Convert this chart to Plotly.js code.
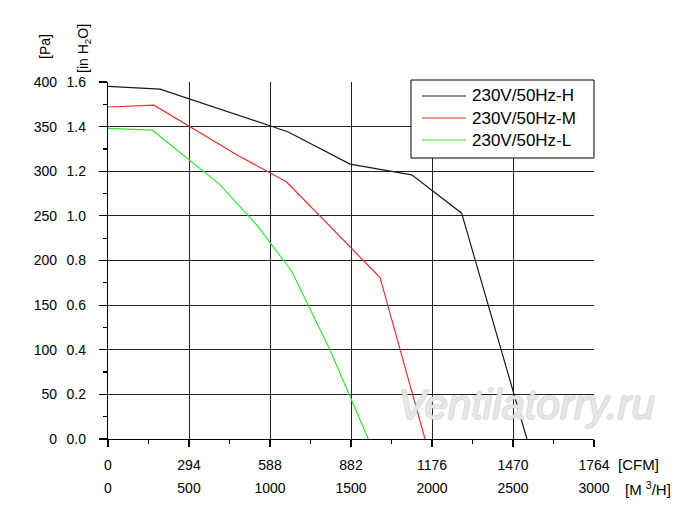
<!DOCTYPE html>
<html>
<head>
<meta charset="utf-8">
<script src="https://cdn.plot.ly/plotly-3.0.1.min.js"></script>
<style>
  html, body { margin: 0; padding: 0; background: #fff; }
  #chart { width: 700px; height: 512px; }
</style>
</head>
<body>
<div id="chart"></div>
<script>
// fan curves, flow in m3/h, static pressure in Pa
const seriesNames = ["230V/50Hz-H", "230V/50Hz-M", "230V/50Hz-L"];
const flowH = [0, 321, 1000, 1113, 1494, 1875, 2183, 2586];
const pressH = [395, 392, 351, 344, 308, 296, 253, 0];
const flowM = [0, 284, 800, 1103, 1679, 1957];
const pressM = [372, 374, 318, 288, 181, 0];
const flowL = [0, 274, 691, 918, 1134, 1370, 1607];
const pressL = [348, 346, 285, 240, 188, 100, 0];

const m3hTicks = [0, 500, 1000, 1500, 2000, 2500, 3000];
const cfmTicks = [0, 294, 588, 882, 1176, 1470, 1764];
const paTicks = [0, 50, 100, 150, 200, 250, 300, 350, 400];
const inH2OTicks = [0, 0.2, 0.4, 0.6, 0.8, 1.0, 1.2, 1.4, 1.6];

const colors = ["#1a1a1a", "#e8302c", "#33e633"];
const FONT = "Liberation Sans, Arial, sans-serif";

// plot box in pixels, used to place the loose labels
const W = 700, H = 512;
const margin = { l: 108, r: 106, t: 82, b: 73 };
const px = x => (x - margin.l) / (W - margin.l - margin.r);
const py = y => (H - margin.b - y) / (H - margin.t - margin.b);

const line = (x, y, i) => ({
    x, y, name: seriesNames[i], type: "scatter", mode: "lines",
    line: { color: colors[i], width: 1.2 }, hoverinfo: "skip", showlegend: false
});

const traces = [
    line(flowH, pressH, 0),
    line(flowM, pressM, 1),
    line(flowL, pressL, 2)
];

// legend drawn by hand: the built-in one spaces rows too far apart
const legendShapes = [{
    type: "rect", xref: "paper", yref: "paper",
    x0: px(411), x1: px(594), y0: py(158), y1: py(80),
    fillcolor: "#fff", line: { color: "#000", width: 1 }, layer: "above"
}];
const legendText = [];
seriesNames.forEach((name, i) => {
    const rowY = 96 + i * 22;
    legendShapes.push({
        type: "line", xref: "paper", yref: "paper",
        x0: px(422), x1: px(466), y0: py(rowY), y1: py(rowY),
        line: { color: colors[i], width: 1.2 }, layer: "above"
    });
    legendText.push({
        text: name, xref: "paper", yref: "paper", x: px(470), y: py(rowY),
        xanchor: "left", yanchor: "middle", showarrow: false,
        font: { family: FONT, size: 17, color: "#000" }
    });
});

const tickFont = { family: FONT, size: 14, color: "#000" };

const layout = {
    width: W, height: H,
    margin,
    paper_bgcolor: "#fff",
    plot_bgcolor: "#fff",
    font: { family: FONT, color: "#000" },
    showlegend: false,
    xaxis: {
        range: [0, 3000], tickvals: m3hTicks, ticktext: m3hTicks.map(String),
        showgrid: true, gridcolor: "#222", gridwidth: 1,
        showline: true, linecolor: "#000", linewidth: 1.2,
        ticks: "outside", ticklen: 7, tickcolor: "#000", tickwidth: 1.2,
        minor: { dtick: 250, ticks: "outside", ticklen: 4, tickcolor: "#000", showgrid: false },
        zeroline: false, tickfont: tickFont, ticklabelstandoff: 29, fixedrange: true
    },
    xaxis2: {
        range: [0, 1764], overlaying: "x", side: "bottom", anchor: "y",
        tickvals: cfmTicks, ticktext: cfmTicks.map(String),
        showgrid: false, showline: false, ticks: "", zeroline: false,
        tickfont: tickFont, ticklabelstandoff: 16, fixedrange: true
    },
    yaxis: {
        range: [0, 400], tickvals: paTicks, ticktext: paTicks.map(String),
        showgrid: true, gridcolor: "#222", gridwidth: 1.2,
        showline: true, linecolor: "#000", linewidth: 1.2,
        ticks: "outside", ticklen: 8, tickcolor: "#000", tickwidth: 1.2,
        minor: { dtick: 25, ticks: "outside", ticklen: 4, tickcolor: "#000", showgrid: false },
        zeroline: false, tickfont: tickFont, ticklabelstandoff: 39, fixedrange: true
    },
    yaxis2: {
        range: [0, 1.6], overlaying: "y", side: "left", anchor: "x",
        tickvals: inH2OTicks, ticktext: inH2OTicks.map(v => v.toFixed(1)),
        showgrid: false, showline: false, ticks: "", zeroline: false,
        tickfont: tickFont, ticklabelstandoff: 21, fixedrange: true
    },
    shapes: legendShapes,
    annotations: [
        { text: "[Pa]", xref: "paper", yref: "paper", x: px(45), y: py(47),
          xanchor: "center", yanchor: "middle",
          textangle: -90, showarrow: false, font: { family: FONT, size: 14 } },
        { text: "[in H<sub>2</sub>O]", xref: "paper", yref: "paper", x: px(84), y: py(49),
          xanchor: "center", yanchor: "middle",
          textangle: -90, showarrow: false, font: { family: FONT, size: 14 } },
        { text: "[CFM]", xref: "paper", yref: "paper", x: px(616), y: py(464),
          xanchor: "left", yanchor: "middle", showarrow: false, font: { family: FONT, size: 15 } },
        { text: "[M <sup>3</sup>/H]", xref: "paper", yref: "paper", x: px(623), y: py(488),
          xanchor: "left", yanchor: "middle", showarrow: false, font: { family: FONT, size: 15 } },
        { text: "<i>Ventilatorry.ru</i>", xref: "paper", yref: "paper", x: px(396), y: py(404),
          xanchor: "left", yanchor: "middle", showarrow: false,
          font: { family: FONT, size: 42, color: "rgba(250,250,250,0.6)",
                  shadow: "1px 0 0 #c8c8c8, -1px 0 0 #c8c8c8, 0 1px 0 #c8c8c8, 0 -1px 0 #c8c8c8" } },
        ...legendText
    ]
};

// dummy trace so the overlaying axes get drawn
traces.push({ x: [0], y: [0], xaxis: "x2", yaxis: "y2", mode: "markers",
    marker: { opacity: 0 }, showlegend: false, hoverinfo: "skip" });

Plotly.newPlot("chart", traces, layout, { displayModeBar: false, staticPlot: true });
</script>
</body>
</html>
